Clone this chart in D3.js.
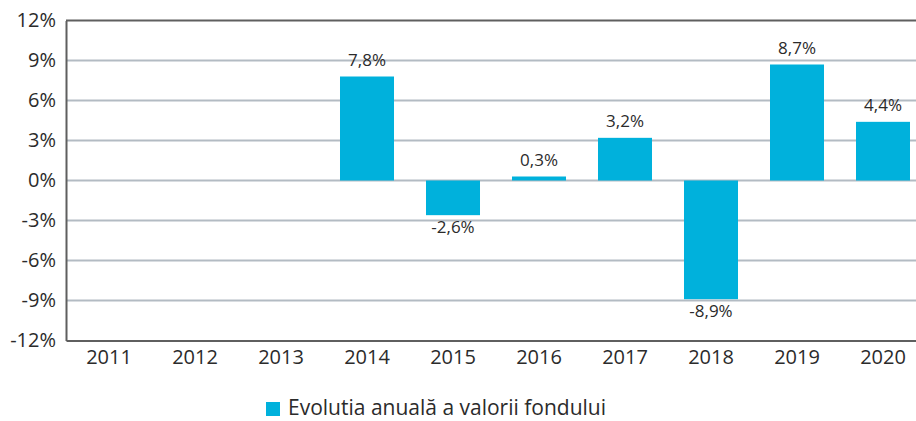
<!DOCTYPE html>
<html>
<head>
<meta charset="utf-8">
<script src="https://cdn.jsdelivr.net/npm/d3@7"></script>
<style>
  body { margin: 0; background: #fff; }
  svg text { font-family: "Open Sans", sans-serif; fill: #2b2b2b; }
</style>
</head>
<body>
<div id="chart"></div>
<script>
// data
const years = ['2011', '2012', '2013', '2014', '2015', '2016', '2017', '2018', '2019', '2020'];
const values = [null, null, null, 7.8, -2.6, 0.3, 3.2, -8.9, 8.7, 4.4];
const yTicks = [-12, -9, -6, -3, 0, 3, 6, 9, 12];
const seriesName = 'Evolutia anuală a valorii fondului';

const width = 916, height = 421;
const plot = { left: 66, right: 926, top: 20.5, bottom: 340.5 };
const barColor = '#00b1dc';

const svg = d3.select('#chart')
  .append('svg')
  .attr('width', width)
  .attr('height', height);

const x = d3.scaleBand()
  .domain(years)
  .range([plot.left, plot.right])
  .paddingInner(0.372)
  .paddingOuter(0.186);

const y = d3.scaleLinear()
  .domain([-12, 12])
  .range([plot.bottom, plot.top]);

// gridlines
svg.append('g')
  .selectAll('line')
  .data(yTicks.filter(t => t !== 12 && t !== -12))
  .enter()
  .append('line')
  .attr('x1', plot.left)
  .attr('x2', plot.right)
  .attr('y1', d => y(d))
  .attr('y2', d => y(d))
  .attr('stroke', '#b3bbc3')
  .attr('stroke-width', 2);

// bars
const data = years.map((yr, i) => ({ year: yr, value: values[i] })).filter(d => d.value !== null);

svg.append('g')
  .selectAll('rect')
  .data(data)
  .enter()
  .append('rect')
  .attr('x', d => x(d.year))
  .attr('width', x.bandwidth())
  .attr('y', d => y(Math.max(0, d.value)))
  .attr('height', d => Math.abs(y(d.value) - y(0)))
  .attr('fill', barColor);

// value labels
svg.append('g')
  .selectAll('text')
  .data(data)
  .enter()
  .append('text')
  .attr('x', d => x(d.year) + x.bandwidth() / 2)
  .attr('y', d => d.value >= 0 ? y(d.value) - 11 : y(d.value) + 18)
  .attr('text-anchor', 'middle')
  .style('font-size', '17px')
  .text(d => d.value.toFixed(1).replace('.', ',') + '%');

// frame: top line, left axis, bottom axis
svg.append('line')
  .attr('x1', plot.left).attr('x2', plot.right)
  .attr('y1', y(12)).attr('y2', y(12))
  .attr('stroke', '#5f5f5f').attr('stroke-width', 2);

const leftAxis = d3.axisLeft(y)
  .tickValues(yTicks)
  .tickSize(0)
  .tickPadding(10)
  .tickFormat(d => d + '%');

const yaxis = svg.append('g')
  .attr('transform', `translate(${plot.left}, 0)`)
  .call(leftAxis);
yaxis.select('.domain').attr('stroke', '#5f5f5f').attr('stroke-width', 2);
yaxis.selectAll('text').style('font-size', '20px').attr('fill', '#2b2b2b');

const bottomAxis = d3.axisBottom(x)
  .tickSize(0)
  .tickPadding(9);

const xaxis = svg.append('g')
  .attr('transform', `translate(0, ${plot.bottom})`)
  .call(bottomAxis);
xaxis.select('.domain').attr('stroke', '#5f5f5f').attr('stroke-width', 2);
xaxis.selectAll('text').style('font-size', '20px').attr('fill', '#2b2b2b');

// legend
const legend = svg.append('g')
  .attr('transform', 'translate(266, 402)');
legend.append('rect')
  .attr('width', 14)
  .attr('height', 14)
  .attr('fill', barColor);
legend.append('text')
  .attr('x', 22)
  .attr('y', 13)
  .style('font-size', '21px')
  .text(seriesName);
</script>
</body>
</html>
